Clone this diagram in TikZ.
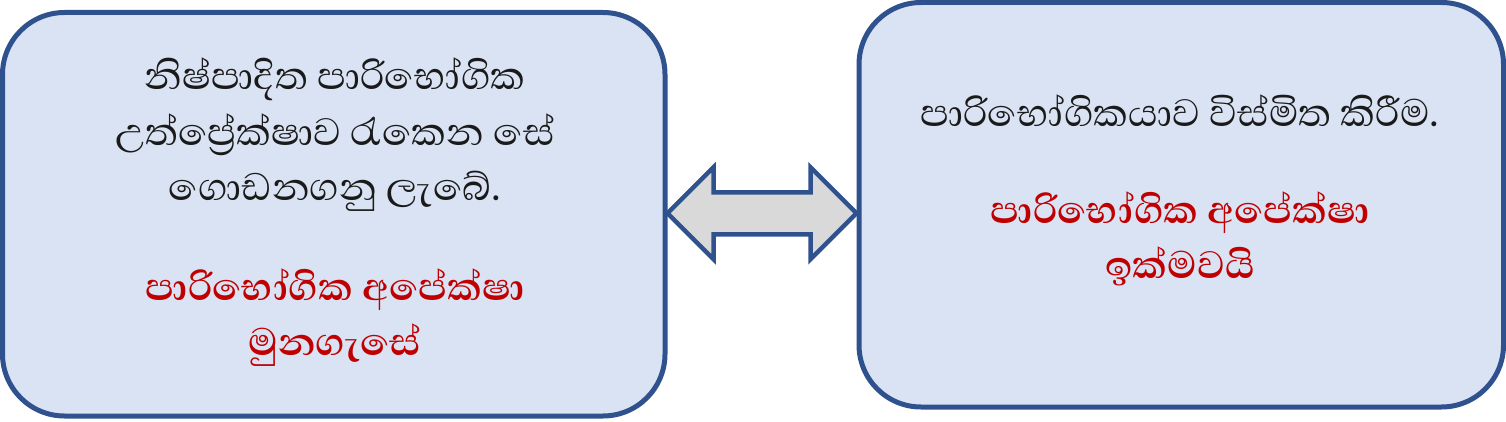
\documentclass[tikz,border=0pt]{standalone}
\usepackage{fontspec}
\usetikzlibrary{calc}
\newfontfamily\sinhalafont[Script=Sinhala]{Abhaya Libre}
\definecolor{boxblue}{HTML}{2F528F}
\definecolor{boxfill}{HTML}{DAE3F3}
\definecolor{arrowfill}{HTML}{D9D9D9}
\definecolor{txtred}{HTML}{C00000}
\definecolor{txtblack}{HTML}{1A1A1A}
\tikzset{
  panel/.style={draw=boxblue, fill=boxfill, line width=5pt, rounded corners=62pt, inner sep=0pt},
  blacktext/.style={font=\sinhalafont\fontsize{49}{55.5}\selectfont, text=txtblack, align=center, inner sep=0pt},
  redtext/.style={font=\sinhalafont\bfseries\fontsize{49}{55.5}\selectfont, text=txtred, align=center, inner sep=0pt},
  dblarrow/.style={draw=boxblue, fill=arrowfill, line width=4.5pt, line join=miter}
}
\begin{document}
\begin{tikzpicture}[x=1pt,y=1pt]
\useasboundingbox (0,0) rectangle (1506,421);
\node[panel, minimum width=662.5pt, minimum height=403.5pt] (L) at (333.75,206.75) {};
\node[panel, minimum width=644.5pt, minimum height=404.5pt] (R) at (1181.25,216.25) {};
\node[blacktext] (Lt) at (335,286) {නිෂ්පාදිත පාරිභෝගික\\උත්ප්‍රේක්ෂාව රැකෙන සේ\\ගොඩනගනු ලැබේ.};
\node[redtext] (Lr) at (335,103.5) {පාරිභෝගික අපේක්ෂා\\මුනගැසේ};
\node[blacktext] (Rt) at (1180,310) {පාරිභෝගිකයාව විස්මිත කිරීම.};
\node[redtext] (Rr) at (1180,182) {පාරිභෝගික අපේක්ෂා\\ඉක්මවයි};
\coordinate (A) at ($(L.east)+(0,1)$);
\coordinate (B) at (R.west |- A);
\draw[dblarrow] (A) -- ++(46,46) -- ++(0,-25) -- ($(B)+(-46,21)$) -- ++(0,25) -- (B)
  -- ++(-46,-46) -- ++(0,25) -- ($(A)+(46,-21)$) -- ++(0,-25) -- cycle;
\end{tikzpicture}
\end{document}
